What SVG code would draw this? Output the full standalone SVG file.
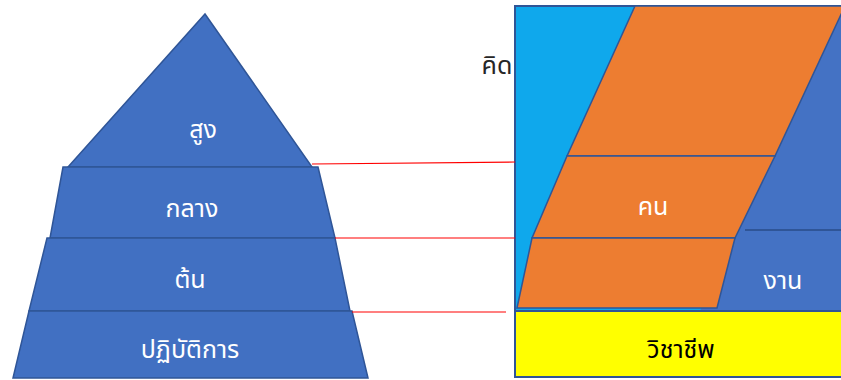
<svg xmlns="http://www.w3.org/2000/svg" width="841" height="380" viewBox="0 0 841 380">
<style>
.lvl{fill:#4170C2;stroke:#2F5597;stroke-width:1.5}
.t{font-family:"Noto Sans Thai","Noto Sans","DejaVu Sans",sans-serif;font-size:25px;text-anchor:middle}
.w{fill:#FFFFFF}
.k{fill:#000000}
.red{stroke:#FF0000;stroke-width:1.2;fill:none}
.edge{stroke:#2F5597;stroke-width:2;fill:none}
</style>
<rect width="841" height="380" fill="#FFFFFF"/>
<g id="level-top">
<polygon class="lvl" points="205,14 312,167 68,167"/>
<text class="t w" x="203" y="138">สูง</text>
</g>
<g id="level-middle">
<polygon class="lvl" points="63,167 318,167 335,238 50,238"/>
<text class="t w" x="192" y="217">กลาง</text>
</g>
<g id="level-low">
<polygon class="lvl" points="47,238 335,238 350,311 29,311"/>
<text class="t w" x="190" y="288">ต้น</text>
</g>
<g id="level-operational">
<polygon class="lvl" points="29,311 352,311 368,378 13,378"/>
<text class="t w" x="190" y="358">ปฏิบัติการ</text>
</g>
<g id="panel">
<rect x="515" y="6" width="330" height="371" fill="#0FA8EC" stroke="#2F5597" stroke-width="2"/>
<polygon points="800,6 845,6 845,312 700,312 760,120" fill="#4472C4"/>
<line class="edge" x1="745" y1="230" x2="841" y2="230"/>
</g>
<g id="think-box">
<polygon points="635,6 845,6 775,156 567,156" fill="#ED7D31" stroke="#2F5597" stroke-width="1.5"/>
<text class="t" x="497" y="74" style="fill:#262626">คิด</text>
</g>
<g id="people-box">
<polygon points="567,156 775,156 735,238 532,238" fill="#ED7D31" stroke="#2F5597" stroke-width="1.5"/>
<text class="t w" x="653" y="215">คน</text>
</g>
<g id="people-lower">
<polygon points="532,238 735,238 717,308 517,308" fill="#ED7D31" stroke="#2F5597" stroke-width="1.5"/>
</g>
<g id="work">
<text class="t w" x="783" y="289">งาน</text>
</g>
<g id="profession">
<rect x="515" y="311" width="330" height="66" fill="#FFFF00" stroke="#2F5597" stroke-width="2"/>
<text class="t k" x="681" y="358">วิชาชีพ</text>
</g>
<g id="connectors">
<line class="red" x1="312" y1="164" x2="515" y2="162"/>
<line class="red" x1="335" y1="238" x2="515" y2="238"/>
<line class="red" x1="352" y1="312" x2="506" y2="312"/>
</g>
</svg>
